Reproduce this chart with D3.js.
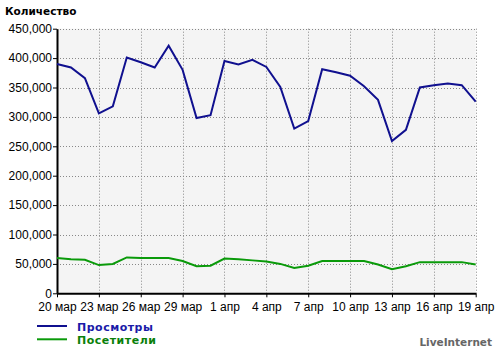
<!DOCTYPE html>
<html>
<head>
<meta charset="utf-8">
<script src="https://cdn.jsdelivr.net/npm/d3@7"></script>
<style>
  body { margin: 0; background: #fff; }
  svg { display: block; }
</style>
</head>
<body>
<div id="chart"></div>
<script>
// день 0 = 20 мар, день 30 = 19 апр
var views = [390000, 384000, 366000, 306000, 318000, 401000, 393000, 384000, 421000, 380000,
             298000, 303000, 395000, 389000, 397000, 385000, 351000, 280000, 293000, 381000,
             376000, 370000, 352000, 329000, 259000, 278000, 350000, 354000, 357000, 354000, 326000];
var visitors = [60000, 58000, 57000, 48000, 50000, 61000, 60000, 60000, 60000, 55000,
                46000, 47000, 59000, 58000, 56000, 54000, 50000, 43000, 47000, 55000,
                55000, 55000, 55000, 49000, 41000, 46000, 53000, 53000, 53000, 53000, 49000];
var tickDays = [0, 3, 6, 9, 12, 15, 18, 21, 24, 27, 30];
var tickLabels = ["20 мар", "23 мар", "26 мар", "29 мар", "1 апр", "4 апр", "7 апр", "10 апр", "13 апр", "16 апр", "19 апр"];
var yTicks = [0, 50000, 100000, 150000, 200000, 250000, 300000, 350000, 400000, 450000];
var seriesNames = ["Просмотры", "Посетители"];

var w = 500, h = 351;
var plotL = 57, plotR = 475.7, plotT = 28.7, plotB = 293.3;

var x = d3.scaleLinear().domain([0, 30]).range([plotL, plotR]);
var y = d3.scaleLinear().domain([0, 450000]).range([plotB, plotT]);

var svg = d3.select("#chart").append("svg")
    .attr("width", w)
    .attr("height", h);

// фон области графика
svg.append("rect")
    .attr("x", plotL).attr("y", plotT)
    .attr("width", plotR - plotL).attr("height", plotB - plotT)
    .attr("fill", "#f4f4f4");

// сетка
svg.selectAll("line.hgrid")
    .data(yTicks.slice(1))
    .enter().append("line")
    .attr("x1", plotL).attr("x2", plotR)
    .attr("y1", function(d) { return Math.round(y(d)) + 0.5; })
    .attr("y2", function(d) { return Math.round(y(d)) + 0.5; })
    .attr("stroke", "#888")
    .attr("stroke-dasharray", "1,2");

svg.selectAll("line.vgrid")
    .data(tickDays.slice(1))
    .enter().append("line")
    .attr("x1", function(d) { return Math.round(x(d)) + 0.5; })
    .attr("x2", function(d) { return Math.round(x(d)) + 0.5; })
    .attr("y1", plotT).attr("y2", plotB)
    .attr("stroke", "#888")
    .attr("stroke-dasharray", "1,2");

// оси
var yAxis = d3.axisLeft(y).tickValues(yTicks).tickSize(4).tickSizeOuter(0)
    .tickFormat(function(d) { return d === 0 ? "0" : d3.format(",")(d); });
var xAxis = d3.axisBottom(x).tickValues(tickDays).tickSize(4).tickSizeOuter(0)
    .tickFormat(function(d, i) { return tickLabels[i]; });

var gy = svg.append("g").attr("transform", "translate(" + plotL + ",0)").call(yAxis);
var gx = svg.append("g").attr("transform", "translate(0," + plotB + ")").call(xAxis);

[gy, gx].forEach(function(g) {
  g.select(".domain").attr("stroke", "#000").attr("stroke-width", 2);
  g.selectAll(".tick line").attr("stroke", "#000");
  g.selectAll(".tick text")
    .attr("fill", "#000")
    .style("font-family", "'Liberation Sans', Arial, sans-serif")
    .style("font-size", "12px");
});
gy.selectAll(".tick text").attr("x", -5);
gx.selectAll(".tick text").attr("y", 9);

// линии
var line = d3.line()
    .x(function(d, i) { return x(i); })
    .y(function(d) { return y(d); });

svg.append("path")
    .datum(visitors)
    .attr("d", line)
    .attr("fill", "none")
    .attr("stroke", "#0a9a0a")
    .attr("stroke-width", 2);

svg.append("path")
    .datum(views)
    .attr("d", line)
    .attr("fill", "none")
    .attr("stroke", "#10108f")
    .attr("stroke-width", 2);

// заголовок
svg.append("text")
    .attr("x", 5).attr("y", 15)
    .style("font-family", "'DejaVu Sans', Verdana, sans-serif")
    .style("font-size", "10.5px")
    .style("font-weight", "bold")
    .text("Количество");

// легенда
var legendColors = ["#10108f", "#0a9a0a"];
var textColors = ["#1a1aa8", "#0a7f0a"];
var leg = svg.selectAll("g.leg")
    .data(seriesNames)
    .enter().append("g")
    .attr("transform", function(d, i) { return "translate(0," + (326 + i * 13.3) + ")"; });

leg.append("line")
    .attr("x1", 37).attr("x2", 67)
    .attr("y1", 0).attr("y2", 0)
    .attr("stroke", function(d, i) { return legendColors[i]; })
    .attr("stroke-width", 2);

leg.append("text")
    .attr("x", 77).attr("y", 5)
    .attr("fill", function(d, i) { return textColors[i]; })
    .style("font-family", "'DejaVu Sans', Verdana, sans-serif")
    .style("font-size", "11px")
    .style("font-weight", "bold")
    .style("letter-spacing", "0.5px")
    .text(function(d) { return d; });

svg.append("text")
    .attr("x", 492).attr("y", 346)
    .attr("text-anchor", "end")
    .attr("fill", "#666")
    .style("font-family", "'DejaVu Sans', Verdana, sans-serif")
    .style("font-size", "10.5px")
    .style("font-weight", "bold")
    .text("LiveInternet");
</script>
</body>
</html>
